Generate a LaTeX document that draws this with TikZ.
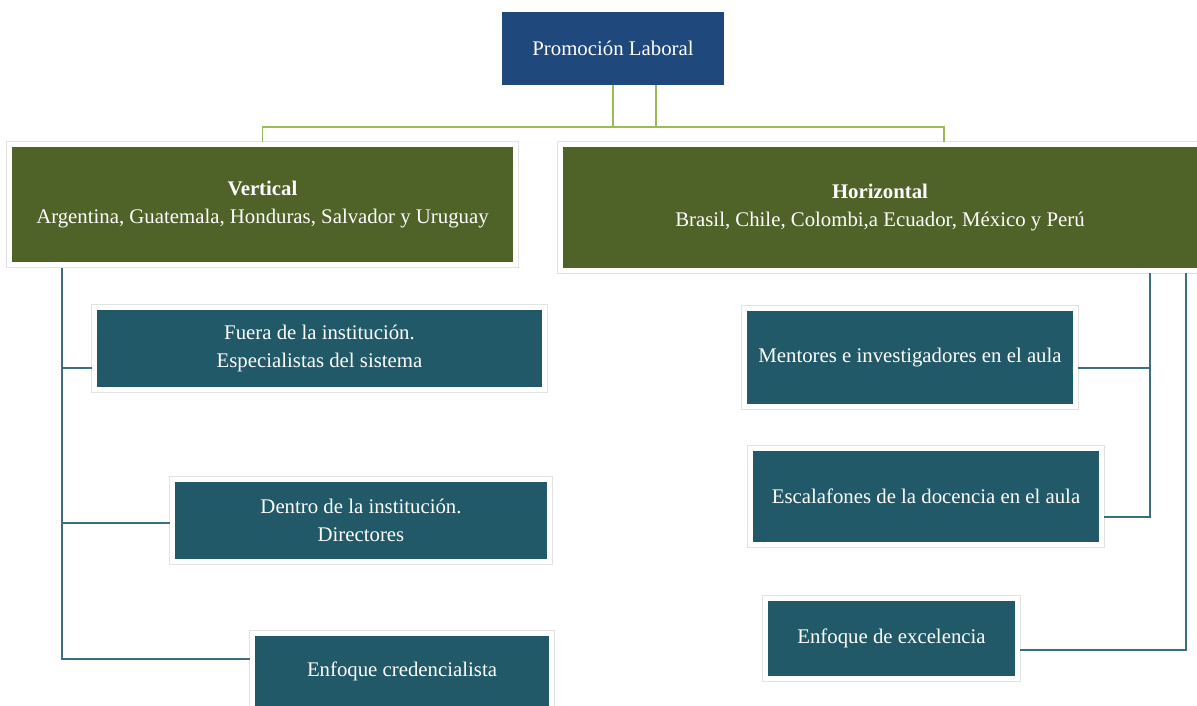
\documentclass[tikz,border=0pt]{standalone}
\usepackage{fontspec}
\setmainfont{Liberation Serif}
\definecolor{topblue}{HTML}{1F497D}
\definecolor{olive}{HTML}{4F6228}
\definecolor{teal}{HTML}{215968}
\definecolor{busgreen}{HTML}{9BBB59}
\definecolor{linkteal}{HTML}{3B6E7E}
\tikzset{
    box/.style={fill=#1,text=white,align=center,inner sep=0pt,font=\fontsize{20.8}{28.5}\selectfont},
    frame/.style={draw=black!11,line width=.8pt},
    gline/.style={busgreen,line width=1.8pt},
    tline/.style={linkteal,line width=1.8pt}
}
\begin{document}
\begin{tikzpicture}[x=1pt,y=-1pt]
    \useasboundingbox (0,0) rectangle (1197,706);
    \node[box=topblue,minimum width=222pt,minimum height=73pt] (top) at (613,48.5) {Promoción Laboral};
    \node[box=olive,minimum width=501pt,minimum height=115pt] (vert) at (262.5,204.5) {\textbf{Vertical}\\Argentina, Guatemala, Honduras, Salvador y Uruguay};
    \node[box=olive,minimum width=634pt,minimum height=121pt] (hor) at (880,207.5) {\textbf{Horizontal}\\Brasil, Chile, Colombi,a Ecuador, México y Perú};
    \node[box=teal,minimum width=445pt,minimum height=77pt] (fuera) at (319.5,348.5) {Fuera de la institución.\\Especialistas del sistema};
    \node[box=teal,minimum width=372pt,minimum height=77pt] (dentro) at (361,520.5) {Dentro de la institución.\\Directores};
    \node[box=teal,minimum width=294pt,minimum height=70pt] (cred) at (402,671) {Enfoque credencialista};
    \node[box=teal,minimum width=326pt,minimum height=93pt] (ment) at (910,357.5) {Mentores e investigadores en el aula};
    \node[box=teal,minimum width=346pt,minimum height=91pt] (esc) at (926,496.5) {Escalafones de la docencia en el aula};
    \node[box=teal,minimum width=247pt,minimum height=75pt] (exc) at (891.5,638.5) {Enfoque de excelencia};
    % white frames round the boxes
    \foreach \n in {vert,hor,fuera,dentro,cred,ment,esc,exc} {
        \draw[frame] ([shift={(-5,5)}]\n.south west) rectangle ([shift={(5,-5)}]\n.north east);
    }
    % top bus
    \coordinate (gbus) at ([yshift=-42pt]top.south);
    \draw[gline] (top.south) -- (gbus) -| ([yshift=5pt]vert.north);
    \draw[gline] ([xshift=43pt]top.south) |- (gbus) -| ([xshift=64pt,yshift=5pt]hor.north);
    % left branch
    \coordinate (lspine) at ([xshift=50pt,yshift=-6pt]vert.south west);
    \draw[tline] (lspine) |- ([xshift=-5pt,yshift=12pt]cred.west);
    \draw[tline] (lspine) |- ([xshift=-5pt,yshift=-19.5pt]fuera.west);
    \draw[tline] (lspine) |- ([xshift=-5pt,yshift=-2.5pt]dentro.west);
    % right branches
    \coordinate (rspine) at ([xshift=-47pt,yshift=-5pt]hor.south east);
    \coordinate (rspineb) at ([xshift=-11pt,yshift=-5pt]hor.south east);
    \draw[tline] (rspine) |- ([xshift=5pt,yshift=-20.5pt]esc.east);
    \draw[tline] (rspine) |- ([xshift=5pt,yshift=-10.5pt]ment.east);
    \draw[tline] (rspineb) |- ([xshift=5pt,yshift=-11.5pt]exc.east);
\end{tikzpicture}
\end{document}
